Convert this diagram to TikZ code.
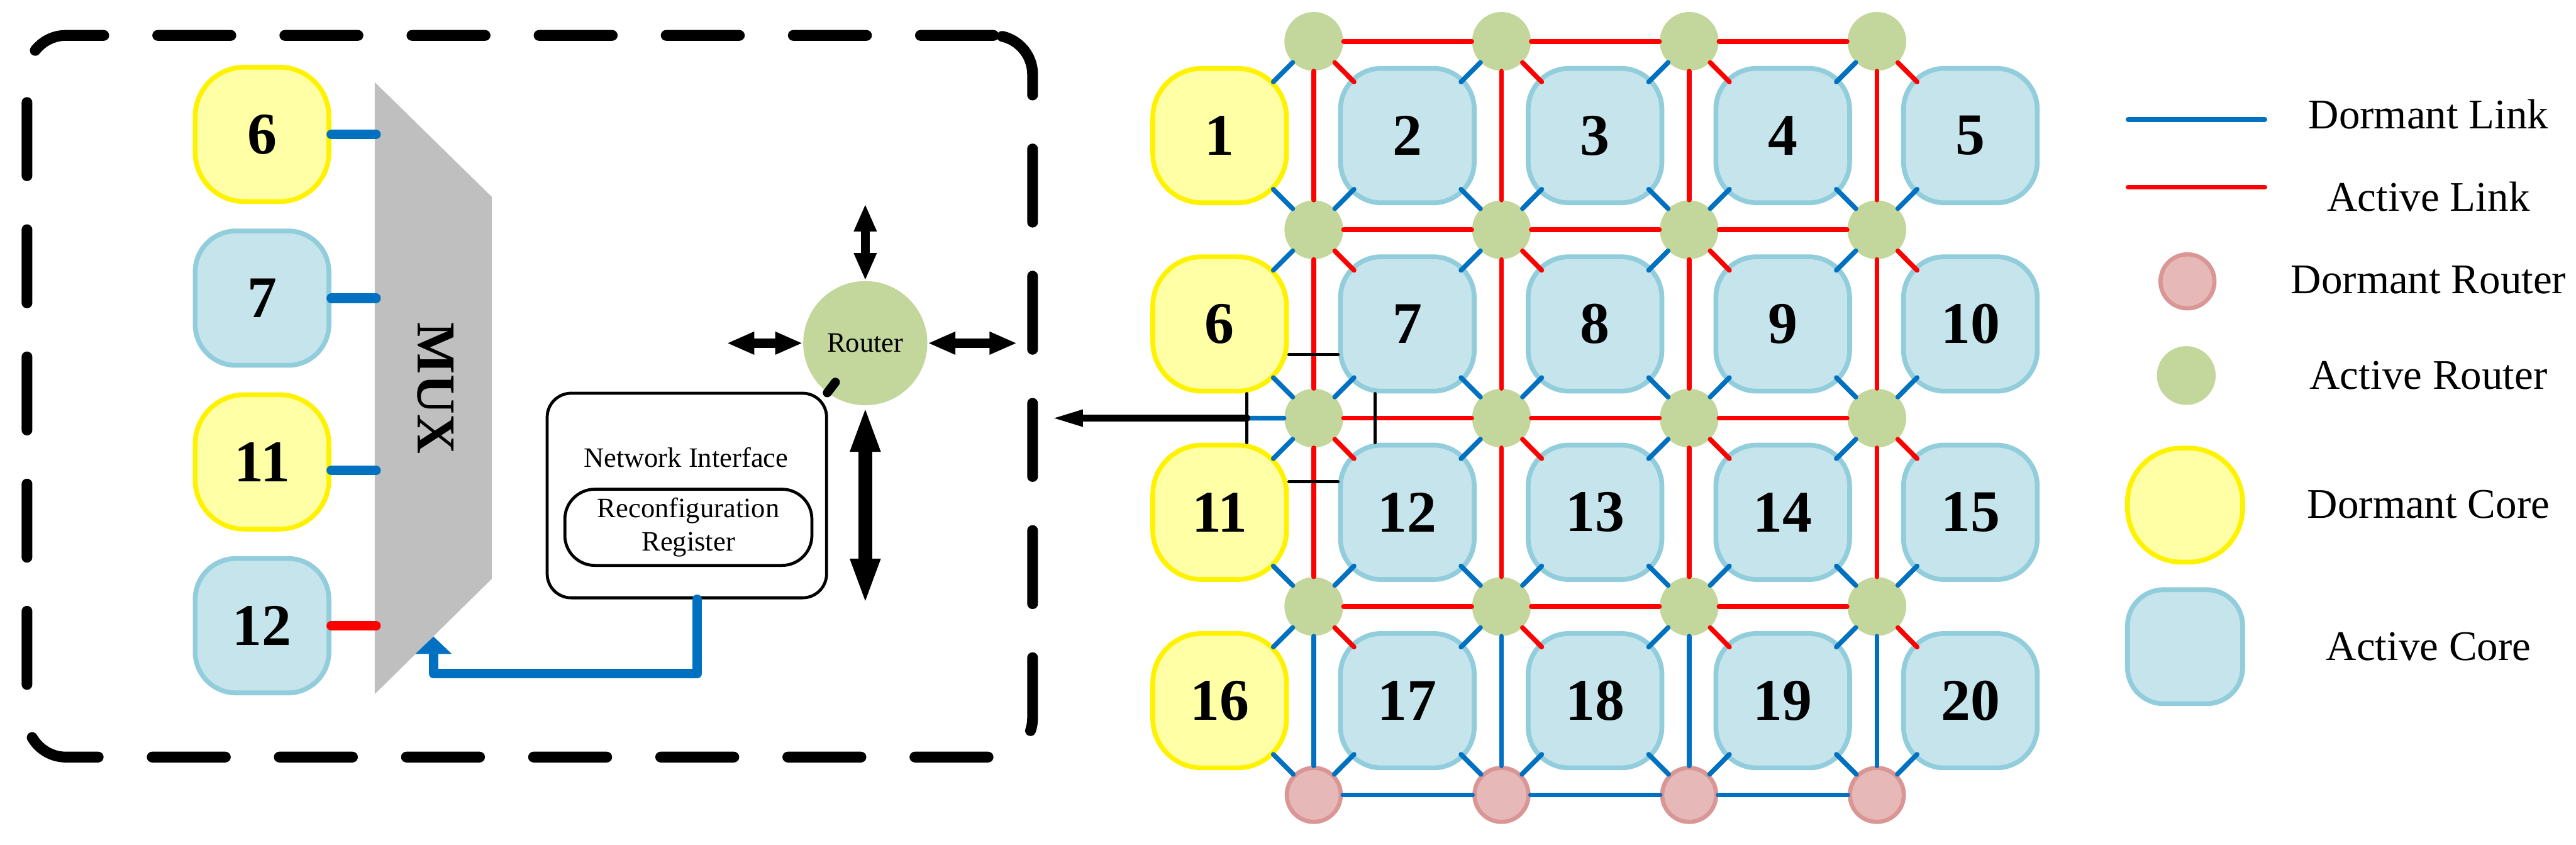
\documentclass[tikz,border=0pt]{standalone}
\usepackage{fontspec}
\setmainfont{Liberation Serif}
\usetikzlibrary{arrows.meta, calc, positioning}

\definecolor{linkblue}{HTML}{0070C0}
\definecolor{linkred}{HTML}{FF0000}
\definecolor{routergreen}{HTML}{C3D69B}
\definecolor{routerpink}{HTML}{E6B9B8}
\definecolor{routerrim}{HTML}{D99694}
\definecolor{corefill}{HTML}{C5E4EC}
\definecolor{corerim}{HTML}{92CDDC}
\definecolor{sleepfill}{HTML}{FFFFA6}
\definecolor{muxgray}{HTML}{BFBFBF}

\begin{document}
\begin{tikzpicture}[x=1cm, y=-1cm, line cap=round]

    % Define styles
    \tikzstyle{dormantcore} = [draw=yellow, fill=sleepfill, line width=0.08cm, rounded corners=0.82cm, minimum width=2.23cm, minimum height=2.24cm, inner sep=0pt, font=\fontsize{28}{28}\selectfont\bfseries]
    \tikzstyle{activecore} = [dormantcore, draw=corerim, fill=corefill, rounded corners=0.68cm]
    \tikzstyle{activerouter} = [circle, fill=routergreen, minimum size=0.98cm, inner sep=0pt]
    \tikzstyle{dormantrouter} = [circle, draw=routerrim, fill=routerpink, line width=0.07cm, minimum size=0.9cm, inner sep=0pt]
    \tikzstyle{dlink} = [linkblue, line width=0.08cm]
    \tikzstyle{alink} = [linkred, line width=0.08cm]
    \tikzstyle{cutline} = [line width=0.05cm]
    \tikzstyle{bus} = [line width=0.16cm]
    \tikzstyle{tileframe} = [draw, line width=0.18cm, dash pattern=on 1.22cm off 0.9cm, rounded corners=0.65cm]
    \tikzstyle{nibox} = [draw, line width=0.05cm, rounded corners=0.4cm, inner sep=0pt]
    \tikzstyle{smalltext} = [font=\fontsize{13.3}{16}\selectfont]
    \tikzstyle{legendtext} = [font=\fontsize{20}{24}\selectfont]
    \tikzstyle{biarrow} = [line width=0.15cm, {Triangle[length=0.46cm, width=0.35cm]}-{Triangle[length=0.46cm, width=0.35cm]}]

    \useasboundingbox (0,0) rectangle (42.96,14.08);

    % Tile: cores, multiplexer, network interface and router
    \node[tileframe, minimum width=16.77cm, minimum height=12.03cm] (tile) at (8.835,6.605) {};

    \node[dormantcore] (l6) at (4.37,2.24) {6};
    \node[activecore, below=0.41cm of l6] (l7) {7};
    \node[dormantcore, below=0.41cm of l7] (l11) {11};
    \node[activecore, below=0.41cm of l11] (l12) {12};

    \fill[muxgray] (6.25,1.37) -- (8.2,3.28) -- (8.2,9.65) -- (6.25,11.57) -- cycle;
    \node[rotate=-90, font=\fontsize{26}{26}\selectfont\bfseries] (mux) at (7.26,6.47) {MUX};
    \coordinate (muxin) at (6.27,0);
    \coordinate (muxsel) at (7.23,10.61);

    \draw[bus, linkblue] (l6) -- (l6 -| muxin);
    \draw[bus, linkblue] (l7) -- (l7 -| muxin);
    \draw[bus, linkblue] ([yshift=-1.4mm]l11.east) -- ([yshift=-1.4mm]l11.east -| muxin);
    \draw[bus, linkred] (l12) -- (l12 -| muxin);

    \node[activerouter, minimum size=2.07cm, smalltext] (router) at (14.43,5.72) {Router};
    \draw[biarrow] (router.north) -- ++(0,-1.28);
    \draw[biarrow] (router.west) -- ++(-1.27,0);
    \draw[biarrow] (router.east) -- ++(1.49,0);
    \draw[biarrow, line width=0.23cm, {Triangle[length=0.77cm, width=0.45cm]}-{Triangle[length=0.77cm, width=0.45cm]}] (router.south) -- ++(0,3.32);

    \node[nibox, minimum width=4.66cm, minimum height=3.41cm] (ni) at (11.455,8.26) {};
    \node[smalltext] (nilabel) at (11.44,7.63) {Network Interface};
    \node[nibox, smalltext, align=center, minimum width=4.12cm, minimum height=1.27cm, rounded corners=0.5cm] (reg) at (11.48,8.79) {Reconfiguration\\Register};
    \draw[line width=0.15cm, shorten <=-2mm] (ni.north east) -- (router);
    \draw[bus, linkblue, line join=round, -{Triangle[length=0.29cm, width=0.59cm]}] ([xshift=1.7mm]ni.south) |- ($(muxsel)+(0,0.62)$) -- (muxsel);

    % Mesh of cores and routers
    \foreach \j in {0,...,3} {
        \pgfmathtruncatemacro{\n}{5*\j+1}
        \node[dormantcore] (c-\n) at (20.34, 2.26+3.14*\j) {\n};
        \foreach \i in {1,...,4} {
            \pgfmathtruncatemacro{\n}{5*\j+\i+1}
            \node[activecore] (c-\n) at (20.34+3.13*\i, 2.26+3.14*\j) {\n};
        }
    }
    \foreach \j in {0,...,3}
        \foreach \i in {0,...,3}
            \node[activerouter] (r-\j-\i) at (21.91+3.13*\i, 0.69+3.14*\j) {};
    \foreach \i in {0,...,3}
        \node[dormantrouter] (r-4-\i) at (21.91+3.13*\i, 13.25) {};

    % Router to router links
    \foreach \j in {0,...,3}
        \foreach \i/\k in {0/1,1/2,2/3}
            \draw[alink] (r-\j-\i) -- (r-\j-\k);
    \foreach \i/\k in {0/1,1/2,2/3}
        \draw[dlink] (r-4-\i) -- (r-4-\k);
    \foreach \i in {0,...,3} {
        \foreach \j/\k in {0/1,1/2,2/3}
            \draw[alink] (r-\j-\i) -- (r-\k-\i);
        \draw[dlink] (r-3-\i) -- (r-4-\i);
    }

    % Router to core links
    \foreach \j in {0,...,4}
        \foreach \i in {0,...,3} {
            \pgfmathtruncatemacro{\cnw}{5*\j+\i-4}
            \pgfmathtruncatemacro{\cne}{\cnw+1}
            \pgfmathtruncatemacro{\csw}{\cnw+5}
            \pgfmathtruncatemacro{\cse}{\cnw+6}
            \ifnum\j>0
                \draw[dlink] (r-\j-\i) -- ($(r-\j-\i)!.43!(c-\cnw)$);
                \draw[dlink] (r-\j-\i) -- ($(r-\j-\i)!.43!(c-\cne)$);
            \fi
            \ifnum\j<4
                \draw[dlink] (r-\j-\i) -- ($(r-\j-\i)!.43!(c-\csw)$);
                \draw[alink] (r-\j-\i) -- ($(r-\j-\i)!.43!(c-\cse)$);
            \fi
        }

    % Cut around cores 6, 7, 11 and 12
    \draw[cutline] ([yshift=-5.1mm]c-6.east) -- ([yshift=-5.1mm]c-7.west);
    \draw[cutline] ([yshift=5.1mm]c-11.east) -- ([yshift=5.1mm]c-12.west);
    \draw[cutline] ([xshift=-5.4mm]c-7.south) -- ([xshift=-5.4mm]c-12.north);
    \draw[cutline] ([xshift=4.5mm]c-6.south) -- coordinate[midway] (bar) ([xshift=4.5mm]c-11.north);
    \draw[dlink] (r-2-0) -- (bar);
    \draw[line width=0.12cm, -{Triangle[length=0.54cm, width=0.25cm]}] (bar) -- ($(tile.east |- bar)+(0.21,0)$);

    % Legend
    \draw[dlink] (35.49,1.99) -- (37.77,1.99);
    \draw[alink] (35.49,3.12) -- (37.77,3.12);
    \node[dormantrouter] (keydr) at (36.48,4.69) {};
    \node[activerouter] (keyar) at (36.46,6.26) {};
    \node[dormantcore, minimum width=1.92cm, minimum height=1.9cm, rounded corners=0.9cm] (keydc) at (36.44,8.42) {};
    \node[activecore, minimum width=1.92cm, minimum height=1.9cm, rounded corners=0.6cm] (keyac) at (36.44,10.78) {};
    \node[legendtext] (keydltext) at (40.5,1.9) {Dormant Link};
    \node[legendtext] (keyaltext) at (40.5,3.28) {Active Link};
    \node[legendtext] (keydrtext) at (40.5,4.67) {Dormant Router};
    \node[legendtext] (keyartext) at (40.5,6.26) {Active Router};
    \node[legendtext] (keydctext) at (40.5,8.41) {Dormant Core};
    \node[legendtext] (keyactext) at (40.5,10.78) {Active Core};

\end{tikzpicture}
\end{document}
